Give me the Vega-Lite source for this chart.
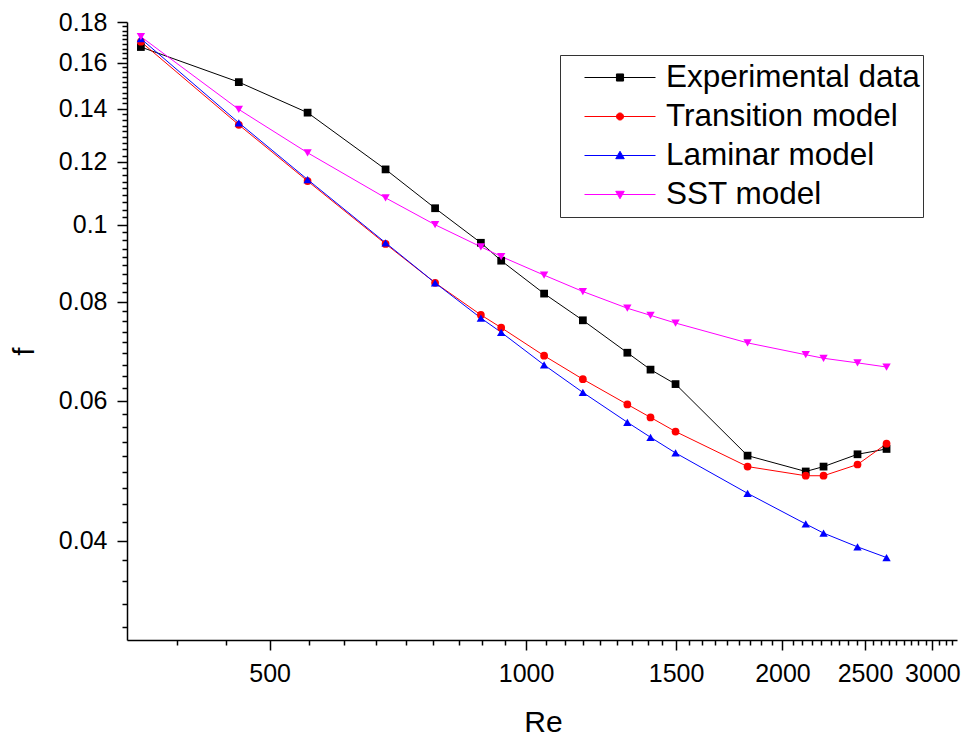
{
  "$schema": "https://vega.github.io/schema/vega-lite/v6.json",
  "width": 830,
  "height": 618,
  "autosize": "none",
  "padding": {"left": 127, "top": 22, "right": 9, "bottom": 96},
  "background": "white",
  "config": {"view": {"stroke": null}, "font": "Liberation Sans"},
  "data": {
    "values": [
      {"Re": 353, "f": 0.1674, "series": "Experimental data"},
      {"Re": 460, "f": 0.1512, "series": "Experimental data"},
      {"Re": 554, "f": 0.1384, "series": "Experimental data"},
      {"Re": 684, "f": 0.1174, "series": "Experimental data"},
      {"Re": 782, "f": 0.1049, "series": "Experimental data"},
      {"Re": 885, "f": 0.0949, "series": "Experimental data"},
      {"Re": 935, "f": 0.0901, "series": "Experimental data"},
      {"Re": 1050, "f": 0.0819, "series": "Experimental data"},
      {"Re": 1166, "f": 0.0758, "series": "Experimental data"},
      {"Re": 1315, "f": 0.069, "series": "Experimental data"},
      {"Re": 1400, "f": 0.0657, "series": "Experimental data"},
      {"Re": 1498, "f": 0.063, "series": "Experimental data"},
      {"Re": 1820, "f": 0.0512, "series": "Experimental data"},
      {"Re": 2130, "f": 0.0489, "series": "Experimental data"},
      {"Re": 2235, "f": 0.0496, "series": "Experimental data"},
      {"Re": 2450, "f": 0.0514, "series": "Experimental data"},
      {"Re": 2650, "f": 0.0522, "series": "Experimental data"},
      {"Re": 353, "f": 0.17, "series": "Transition model"},
      {"Re": 460, "f": 0.1336, "series": "Transition model"},
      {"Re": 554, "f": 0.1135, "series": "Transition model"},
      {"Re": 684, "f": 0.0946, "series": "Transition model"},
      {"Re": 782, "f": 0.0845, "series": "Transition model"},
      {"Re": 885, "f": 0.077, "series": "Transition model"},
      {"Re": 935, "f": 0.0742, "series": "Transition model"},
      {"Re": 1050, "f": 0.0684, "series": "Transition model"},
      {"Re": 1166, "f": 0.0639, "series": "Transition model"},
      {"Re": 1315, "f": 0.0594, "series": "Transition model"},
      {"Re": 1400, "f": 0.0572, "series": "Transition model"},
      {"Re": 1498, "f": 0.0549, "series": "Transition model"},
      {"Re": 1820, "f": 0.0496, "series": "Transition model"},
      {"Re": 2130, "f": 0.0483, "series": "Transition model"},
      {"Re": 2235, "f": 0.0483, "series": "Transition model"},
      {"Re": 2450, "f": 0.0499, "series": "Transition model"},
      {"Re": 2650, "f": 0.053, "series": "Transition model"},
      {"Re": 353, "f": 0.1715, "series": "Laminar model"},
      {"Re": 460, "f": 0.1344, "series": "Laminar model"},
      {"Re": 554, "f": 0.114, "series": "Laminar model"},
      {"Re": 684, "f": 0.0949, "series": "Laminar model"},
      {"Re": 782, "f": 0.0845, "series": "Laminar model"},
      {"Re": 885, "f": 0.0763, "series": "Laminar model"},
      {"Re": 935, "f": 0.0732, "series": "Laminar model"},
      {"Re": 1050, "f": 0.0666, "series": "Laminar model"},
      {"Re": 1166, "f": 0.0615, "series": "Laminar model"},
      {"Re": 1315, "f": 0.0564, "series": "Laminar model"},
      {"Re": 1400, "f": 0.054, "series": "Laminar model"},
      {"Re": 1498, "f": 0.0516, "series": "Laminar model"},
      {"Re": 1820, "f": 0.0459, "series": "Laminar model"},
      {"Re": 2130, "f": 0.042, "series": "Laminar model"},
      {"Re": 2235, "f": 0.0409, "series": "Laminar model"},
      {"Re": 2450, "f": 0.0393, "series": "Laminar model"},
      {"Re": 2650, "f": 0.0381, "series": "Laminar model"},
      {"Re": 353, "f": 0.1725, "series": "SST model"},
      {"Re": 460, "f": 0.1397, "series": "SST model"},
      {"Re": 554, "f": 0.1232, "series": "SST model"},
      {"Re": 684, "f": 0.1081, "series": "SST model"},
      {"Re": 782, "f": 0.1, "series": "SST model"},
      {"Re": 885, "f": 0.0938, "series": "SST model"},
      {"Re": 935, "f": 0.0912, "series": "SST model"},
      {"Re": 1050, "f": 0.0864, "series": "SST model"},
      {"Re": 1166, "f": 0.0824, "series": "SST model"},
      {"Re": 1315, "f": 0.0785, "series": "SST model"},
      {"Re": 1400, "f": 0.0769, "series": "SST model"},
      {"Re": 1498, "f": 0.0752, "series": "SST model"},
      {"Re": 1820, "f": 0.071, "series": "SST model"},
      {"Re": 2130, "f": 0.0686, "series": "SST model"},
      {"Re": 2235, "f": 0.0679, "series": "SST model"},
      {"Re": 2450, "f": 0.067, "series": "SST model"},
      {"Re": 2650, "f": 0.0662, "series": "SST model"}
    ]
  },
  "encoding": {
    "x": {
      "field": "Re",
      "type": "quantitative",
      "scale": {"type": "log", "domain": [340, 3206], "nice": false},
      "axis": {
        "title": "Re",
        "values": [388.89, 444.44, 500, 555.56, 611.11, 666.67, 722.22, 777.78, 833.33, 888.89, 944.44, 1000, 1055.56, 1111.11, 1166.67, 1222.22, 1277.78, 1333.33, 1388.89, 1444.44, 1500, 1555.56, 1611.11, 1666.67, 1722.22, 1777.78, 1833.33, 1888.89, 1944.44, 2000, 2055.56, 2111.11, 2166.67, 2222.22, 2277.78, 2333.33, 2388.89, 2444.44, 2500, 2555.56, 2611.11, 2666.67, 2722.22, 2777.78, 2833.33, 2888.89, 2944.44, 3000, 3055.56, 3111.11, 3166.67],
        "labelExpr": "datum.value % 500 === 0 ? format(datum.value, 'd') : ''",
        "tickSize": {"condition": {"test": "datum.value % 500 === 0", "value": 10}, "value": 5},
        "labelPadding": 11,
        "labelFontSize": 25,
        "labelFont": "Liberation Sans",
        "labelColor": "black",
        "labelOverlap": false,
        "labelFlush": false,
        "labelBound": false,
        "domainColor": "black",
        "domainWidth": 1.5,
        "tickColor": "black",
        "tickWidth": 1.5,
        "grid": false,
        "titleFont": "Liberation Sans",
        "titleFontSize": 30,
        "titleFontWeight": "normal",
        "titleColor": "black",
        "titleX": 416,
        "titleY": 91,
        "titleBaseline": "alphabetic",
        "titleAlign": "center"
      }
    },
    "y": {
      "field": "f",
      "type": "quantitative",
      "scale": {"type": "log", "domain": [0.03, 0.18], "nice": false},
      "axis": {
        "title": "f",
        "values": [0.031111, 0.033333, 0.035556, 0.037778, 0.04, 0.042222, 0.044444, 0.046667, 0.048889, 0.051111, 0.053333, 0.055556, 0.057778, 0.06, 0.062222, 0.064444, 0.066667, 0.068889, 0.071111, 0.073333, 0.075556, 0.077778, 0.08, 0.082222, 0.084444, 0.086667, 0.088889, 0.091111, 0.093333, 0.095556, 0.097778, 0.1, 0.102222, 0.104444, 0.106667, 0.108889, 0.111111, 0.113333, 0.115556, 0.117778, 0.12, 0.122222, 0.124444, 0.126667, 0.128889, 0.131111, 0.133333, 0.135556, 0.137778, 0.14, 0.142222, 0.144444, 0.146667, 0.148889, 0.151111, 0.153333, 0.155556, 0.157778, 0.16, 0.162222, 0.164444, 0.166667, 0.168889, 0.171111, 0.173333, 0.175556, 0.177778, 0.18],
        "labelExpr": "abs(datum.value * 50 - round(datum.value * 50)) < 0.001 ? format(datum.value, '~g') : ''",
        "tickSize": {"condition": {"test": "abs(datum.value * 50 - round(datum.value * 50)) < 0.001", "value": 10}, "value": 5},
        "labelPadding": 10,
        "labelFontSize": 25,
        "labelFont": "Liberation Sans",
        "labelColor": "black",
        "labelOverlap": false,
        "labelFlush": false,
        "labelBound": false,
        "domainColor": "black",
        "domainWidth": 1.5,
        "tickColor": "black",
        "tickWidth": 1.5,
        "grid": false,
        "titleFont": "Liberation Sans",
        "titleFontSize": 30,
        "titleFontWeight": "normal",
        "titleColor": "black",
        "titleAngle": 270,
        "titleX": -94,
        "titleY": 329,
        "titleBaseline": "alphabetic",
        "titleAlign": "center"
      }
    }
  },
  "layer": [
    {
      "mark": {"type": "line", "strokeWidth": 1},
      "encoding": {
        "color": {
          "field": "series",
          "type": "nominal",
          "scale": {
            "domain": ["Experimental data", "Transition model", "Laminar model", "SST model"],
            "range": ["#000000", "#ff0000", "#0000ff", "#ff00ff"]
          },
          "legend": {
            "title": null,
            "orient": "none",
            "legendX": 433,
            "legendY": 33,
            "padding": 3,
            "strokeColor": "#333333",
            "fillColor": "white",
            "labelFont": "Liberation Sans",
            "labelFontSize": 31.5,
            "labelColor": "black",
            "labelLimit": 400,
            "symbolType": "M-1,0H1",
            "symbolSize": 5041,
            "symbolStrokeWidth": 1,
            "symbolOffset": 21,
            "labelOffset": 10,
            "clipHeight": 39,
            "rowPadding": 0,
            "encode": {
              "symbols": {
                "update": {
                  "shape": {"signal": "datum.value === 'Experimental data' ? 'M-1,0H1M-0.1,-0.1H0.1V0.1H-0.1Z' : datum.value === 'Transition model' ? 'M-1,0H1M0.1,0A0.1,0.1,0,1,1,-0.1,0A0.1,0.1,0,1,1,0.1,0Z' : datum.value === 'Laminar model' ? 'M-1,0H1M0,-0.12L0.12,0.09L-0.12,0.09Z' : 'M-1,0H1M0,0.12L0.12,-0.09L-0.12,-0.09Z'"},
                  "fill": {"scale": "color", "field": "value"},
                  "stroke": {"scale": "color", "field": "value"},
                  "strokeWidth": {"value": 1},
                  "size": {"value": 5041},
                  "opacity": {"value": 1}
                }
              }
            }
          }
        }
      }
    },
    {
      "transform": [{"filter": "datum.series === 'Experimental data'"}],
      "mark": {"type": "point", "filled": true, "opacity": 1, "size": 60, "shape": "square"},
      "encoding": {"color": {"field": "series", "type": "nominal", "legend": null}}
    },
    {
      "transform": [{"filter": "datum.series === 'Transition model'"}],
      "mark": {"type": "point", "filled": true, "opacity": 1, "size": 60, "shape": "circle"},
      "encoding": {"color": {"field": "series", "type": "nominal", "legend": null}}
    },
    {
      "transform": [{"filter": "datum.series === 'Laminar model'"}],
      "mark": {"type": "point", "filled": true, "opacity": 1, "size": 70, "shape": "triangle-up"},
      "encoding": {"color": {"field": "series", "type": "nominal", "legend": null}}
    },
    {
      "transform": [{"filter": "datum.series === 'SST model'"}],
      "mark": {"type": "point", "filled": true, "opacity": 1, "size": 70, "shape": "triangle-down"},
      "encoding": {"color": {"field": "series", "type": "nominal", "legend": null}}
    }
  ]
}
